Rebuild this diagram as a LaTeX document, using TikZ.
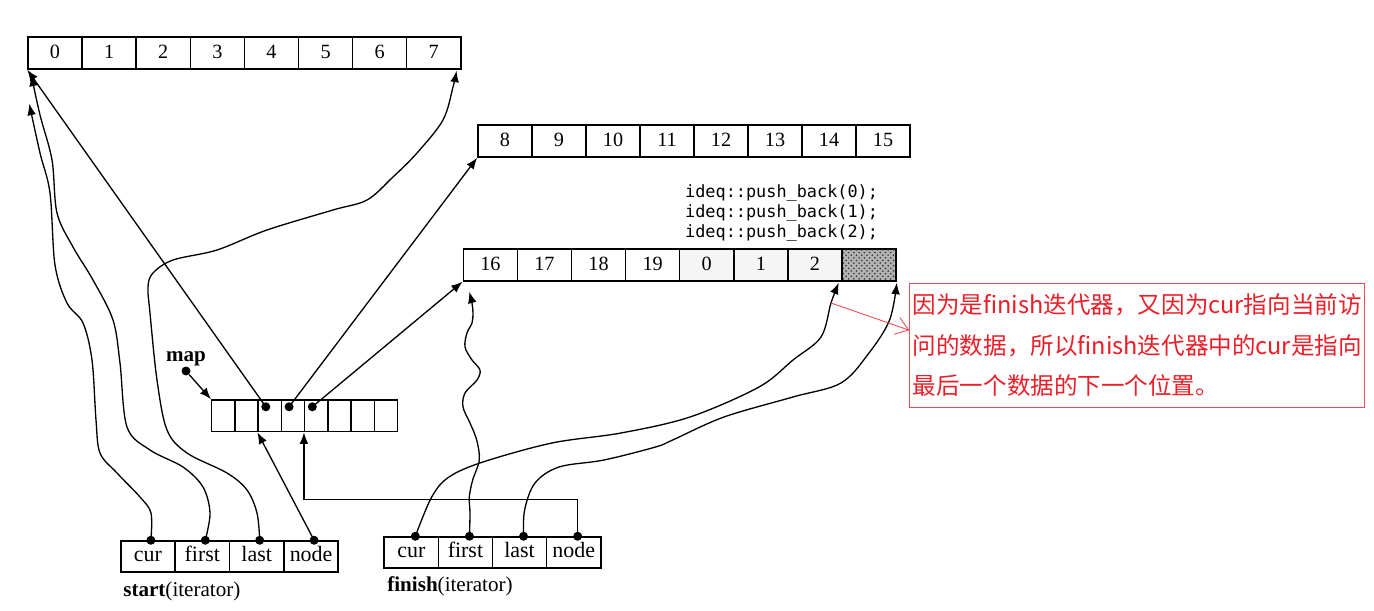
\documentclass[tikz,border=0pt]{standalone}
\usepackage{fontspec}
\setmainfont{Liberation Serif}
\newfontfamily\cjk{Noto Sans CJK SC}
\newfontfamily\codefont{DejaVu Sans Mono}
\usetikzlibrary{arrows.meta,patterns}
\definecolor{notered}{RGB}{235,30,40}
\tikzset{
  cell/.style={draw, line width=0.85pt, minimum width=1.082cm, minimum height=0.64cm, inner sep=0pt, text height=0.68em, text depth=0.02em, font=\fontsize{11.5}{13}\selectfont},
  mapcell/.style={draw, line width=0.85pt, minimum width=0.465cm, minimum height=0.634cm, inner sep=0pt},
  itcell/.style={draw, line width=0.85pt, minimum width=1.085cm, minimum height=0.62cm, inner sep=0pt, text height=0.7em, text depth=0.1em, font=\fontsize{12.5}{14}\selectfont},
  dot/.style={circle, fill, inner sep=0pt, minimum size=0.18cm},
  arr/.style={line width=0.75pt, -{Latex[length=6.5pt,width=5pt]}},
  wavy/.style={arr, smooth, tension=0.55},
  lbl/.style={inner sep=0pt, anchor=west, font=\fontsize{12}{14}\selectfont},
}
\begin{document}
\begin{tikzpicture}[x=0.02cm, y=-0.02cm]
	\useasboundingbox (0,0) rectangle (1374,611);
	
	% Puffer 0..7
	\foreach \i in {0,...,7}
	\node[cell] (a\i) at ({28+54.1*\i+27.05},53) {\i};
	
	% Puffer 8..15
	\foreach \v [count=\i from 0] in {8,...,15}
	\node[cell] (b\v) at ({478+54*\i+27},141) {\v};
	
	% Puffer 16..19, danach die neuen Elemente
	\foreach \v [count=\i from 0] in {16,17,18,19}
	\node[cell] (c\i) at ({463.3+54.1*\i+27.05},265) {\v};
	\foreach \v [count=\i from 4] in {0,1,2}
	\node[cell, fill=gray!8] (c\i) at ({463.3+54.1*\i+27.05},265) {\v};
	\node[cell, fill=gray!60, postaction={pattern=crosshatch dots, pattern color=black!80}] (c7) at ({463.3+54.1*7+27.05},265) {};
	
	% push_back Aufrufe
	\node[font=\codefont\fontsize{9.6}{11.4}\selectfont, align=left] (code) at (781.6,213)
	{ideq::push\_back(0);\\ideq::push\_back(1);\\ideq::push\_back(2);};
	
	% map
	\foreach \i in {0,...,7}
	\node[mapcell] (m\i) at ({211.7+23.25*\i+11.625},415.8) {};
	\foreach \i in {2,3,4}
	\path (m\i) ++(-4,-9) node[dot] (md\i) {};
	\node[font=\bfseries\fontsize{12}{14}\selectfont] (maplbl) at (186,359) {map};
	\node[dot] (mapdot) at (186,371) {};
	\draw[arr] (mapdot) -- (m0.north west);
	
	% Zeiger aus der map auf die Puffer
	\draw[arr] (md2.center) -- (a0.south west);
	\draw[arr] (md3.center) -- (b8.south west);
	\draw[arr] (md4.center) -- (c0.south west);
	
	% Iterator start
	\foreach \n [count=\i from 0] in {cur,first,last,node}
	\node[itcell] (s\n) at ({120.7+54.4*\i+27.2},556.5) {\n};
	\foreach \n in {cur,first,last,node}
	\path (s\n.north) ++(3,0) node[dot] (sd\n) {};
	\node[lbl] (slbl) at (123,591) {\textbf{start}(iterator)};
	
	% Iterator finish
	\foreach \n [count=\i from 0] in {cur,first,last,node}
	\node[itcell] (f\n) at ({384.3+54.1*\i+27.05},552.5) {\n};
	\foreach \n in {cur,first,last,node}
	\path (f\n.north) ++(4,0) node[dot] (fd\n) {};
	\node[lbl] (flbl) at (387,586) {\textbf{finish}(iterator)};
	
	% Pfeilspitzen an den Puffern
	\coordinate (a0cur) at ([xshift=0.04cm,yshift=-0.68cm]a0.south west);
	\coordinate (a0first) at ([xshift=0.08cm,yshift=-0.1cm]a0.south west);
	\coordinate (a7last) at ([xshift=-0.1cm,yshift=-0.02cm]a7.south east);
	\coordinate (c0first) at ([xshift=0.134cm,yshift=-0.2cm]c0.south west);
	\coordinate (c6cur) at ([xshift=-0.08cm,yshift=-0.02cm]c6.south east);
	\coordinate (c7last) at ([yshift=-0.02cm]c7.south east);
	
	% start -> Puffer / map
	\draw[arr] (sdnode.center) -- (m2.south west);
	\draw[wavy] plot coordinates {(sdcur.center) (151,513) (140,497) (117,473) (100,453)
		(96,420) (92,360) (83,323) (67,303) (55,265) (50,193) (40,153) (a0cur)};
	\draw[wavy] plot coordinates {(sdfirst.center) (210,513) (203,487) (183,467) (150,450)
		(127,427) (120,363) (113,320) (93,280) (73,247) (57,213) (52,160) (40,115) (a0first)};
	\draw[wavy] plot coordinates {(sdlast.center) (257,513) (247,490) (227,473) (187,453)
		(167,430) (157,380) (150,313) (148,287) (153,273) (173,260) (217,250) (267,230)
		(333,210) (367,200) (393,177) (417,153) (443,120) (453,87) (a7last)};
	
	% finish -> Puffer / map
	\draw[arr] (fdnode.center) -- ++(0,-37) -| (m4.south west);
	\draw[wavy] plot coordinates {(fdfirst.center) (470,513) (469.3,497) (472.7,480) (479.3,460)
		(476.7,440) (470,423) (463,407) (465,393) (477,380) (480,370) (472,360) (465,347)
		(467,333) (472,323) (473,313) (472,303) (c0first)};
	\draw[wavy] plot coordinates {(fdcur.center) (431.7,497) (449,477) (483,462) (552,443)
		(621,433) (690,417) (759,387) (793,360) (821,337) (831,303) (c6cur)};
	\draw[wavy] plot coordinates {(fdlast.center) (524.6,510) (535,483) (559,467) (604,460)
		(655.5,447) (672.7,440) (724,417) (793,397) (841,383) (869,353) (889.6,320) (c7last)};
	
	% Anmerkung
	\node[draw=notered!80, line width=0.6pt, text=notered, font=\cjk\fontsize{13.4}{23.2}\selectfont,
	align=left, anchor=north west, minimum width=9.1cm, minimum height=2.48cm, inner sep=0pt] (note)
	at (909.3,282.7) {因为是finish迭代器，又因为cur指向当前访\\问的数据，所以finish迭代器中的cur是指向\\最后一个数据的下一个位置。};
	\coordinate (callout) at (831,303);
	\draw[notered!80, line width=0.5pt, -{Straight Barb[length=7pt,width=10pt]}] (callout) -- ([yshift=0.3cm]note.west);
	
\end{tikzpicture}
\end{document}
